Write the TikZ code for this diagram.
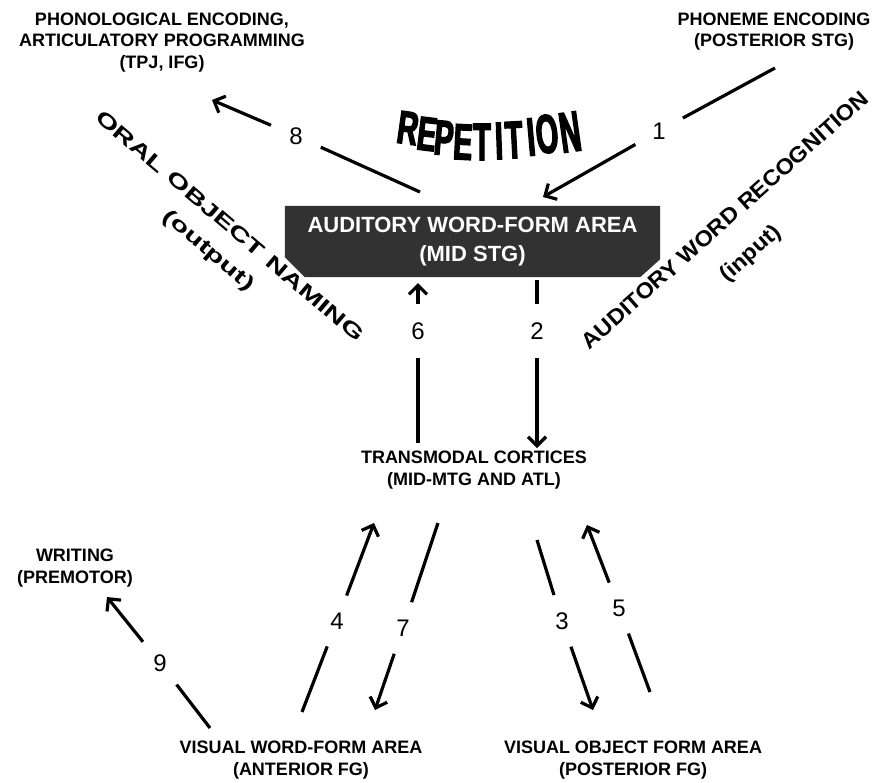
\documentclass[tikz,border=0pt]{standalone}
\usepackage{fontspec}
\setmainfont{Liberation Sans}
\newfontfamily\repfont{Liberation Sans}[UprightFont={* Bold}, FakeStretch=0.55, FakeBold=2.5]
\newfontfamily\widefont{Liberation Sans}[UprightFont={* Bold}, FakeStretch=1.5]
\newfontfamily\inputfont{Liberation Sans}[UprightFont={* Bold}, FakeStretch=1.07]
\usepackage{graphicx}
\usetikzlibrary{arrows.meta,backgrounds}
\definecolor{boxgray}{RGB}{50,50,50}
\begin{document}
\begin{tikzpicture}[x=1pt,y=-1pt,
  lab/.style={font=\bfseries\fontsize{18}{21.5}\selectfont, align=center, inner sep=0pt},
  num/.style={font=\fontsize{24}{24}\selectfont, circle, inner sep=0pt, minimum size=54pt},
  conn/.style={line width=3.2pt},
  arr/.style={conn, -{Straight Barb[length=9pt,width=18pt]}},
  rep/.style={font=\repfont\fontsize{52}{52}\selectfont, inner sep=0pt},
  rotlab/.style={inner sep=0pt}]
\useasboundingbox (0,0) rectangle (875,782);

% labels
\node[lab] (phon) at (162,42.5) {PHONOLOGICAL ENCODING,\\ARTICULATORY PROGRAMMING\\(TPJ, IFG)};
\node[lab] (phoneme) at (774,31.5) {PHONEME ENCODING\\(POSTERIOR STG)};
\node[lab] (trans) at (474,470) {TRANSMODAL CORTICES\\(MID-MTG AND ATL)};
\node[lab] (writing) at (75,568) {WRITING\\(PREMOTOR)};
\node[lab] (vwfa) at (301,760) {VISUAL WORD-FORM AREA\\(ANTERIOR FG)};
\node[lab] (vofa) at (633,760) {VISUAL OBJECT FORM AREA\\(POSTERIOR FG)};

% box
\node[font=\bfseries\fontsize{22}{29}\selectfont, text=white, align=center,
      minimum width=375pt, minimum height=71pt, inner sep=0pt] (awf) at (472.5,241.5)
      {AUDITORY WORD-FORM AREA\\(MID STG)};
\begin{pgfonlayer}{background}
\fill[boxgray] (awf.north west) -- (awf.north east) -- ([yshift=18pt]awf.south east)
  -- ([xshift=-20pt]awf.south east) -- ([xshift=20pt]awf.south west)
  -- ([yshift=20pt]awf.south west) -- cycle;
\end{pgfonlayer}

% rotated labels
\node[rotlab, rotate=-40.4, font=\widefont\fontsize{20}{20}\selectfont] (oral) at (230,226)
  {ORAL OBJECT NAMING};
\node[rotlab, rotate=-40.4, font=\widefont\fontsize{20}{20}\selectfont] (output) at (208,251)
  {(output)};
\node[rotlab, rotate=41.7, font=\inputfont\fontsize{22}{22}\selectfont] (awr) at (725,220)
  {AUDITORY WORD RECOGNITION};
\node[rotlab, rotate=41.7, font=\inputfont\fontsize{22}{22}\selectfont] (input) at (751,254)
  {(input)};

% REPETITION
\foreach \ch/\x/\y/\r/\v [count=\i] in {R/408/128/-8/0.9, E/427/134/-7/0.92, P/444/138/-5/0.95,
  E/463/142/-3/0.98, T/482/142/0/1.02, I/499/141/2/1.02, T/514/140/3/1.02, I/531/137/5/1.04,
  O/547/134/6/1.06, N/570/132/8/1.1}
  \node[rep, rotate=\r] (rep\i) at (\x,\y) {\scalebox{1}[\v]{\ch}};

% arrow endpoints
\coordinate (s8) at (420,192); \coordinate (e8) at (212,100);
\coordinate (s1) at (775,68);  \coordinate (e1) at (543,197);
\coordinate (s6) at (418,443); \coordinate (e6) at (418,283);
\coordinate (s2) at (537,280); \coordinate (e2) at (537,448);
\coordinate (s4) at (302,712); \coordinate (e4) at (374,523);
\coordinate (s7) at (438,523); \coordinate (e7) at (375,710);
\coordinate (s9) at (210,728); \coordinate (e9) at (107,597);
\coordinate (s3) at (537,540); \coordinate (e3) at (593,710);
\coordinate (s5) at (650,692); \coordinate (e5) at (587,525);

% numbers
\node[num] (n8) at (296,136) {8};
\node[num] (n1) at (659,131) {1};
\node[num] (n6) at (418,331) {6};
\node[num] (n2) at (537,331) {2};
\node[num] (n4) at (337,621) {4};
\node[num] (n7) at (403,628) {7};
\node[num] (n9) at (160,663) {9};
\node[num] (n3) at (562,621) {3};
\node[num] (n5) at (619,608) {5};

% connectors
\foreach \k in {8,1,6,2,4,7,9,3,5}{
  \draw[conn] (s\k) -- (n\k);
  \draw[arr] (n\k) -- (e\k);
}
\end{tikzpicture}
\end{document}
